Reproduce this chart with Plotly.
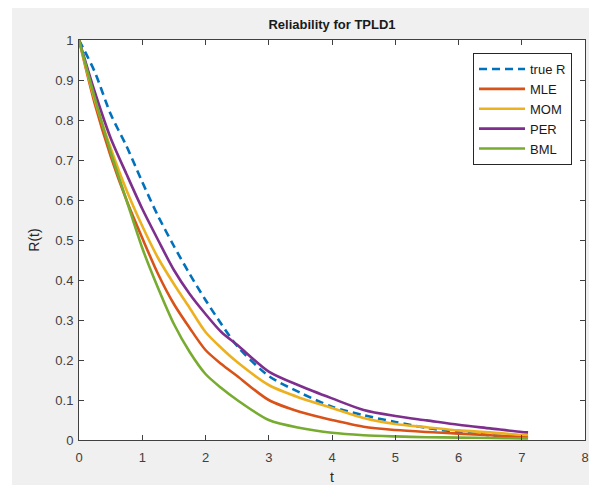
import plotly.graph_objects as go

t = [0, 0.25, 0.5, 0.75, 1.0, 1.25, 1.5, 1.75, 2.0, 2.25, 2.5, 3.0, 3.5, 4.0, 4.5, 5.0, 5.5, 6.0, 6.5, 7.0, 7.1]

true_R = [1, 0.92, 0.815, 0.735, 0.645, 0.56, 0.485, 0.415, 0.35, 0.29, 0.235, 0.16, 0.118, 0.083, 0.062, 0.045, 0.03, 0.02, 0.012, 0.006, 0.005]
mle = [1, 0.84, 0.71, 0.60, 0.505, 0.415, 0.34, 0.28, 0.225, 0.19, 0.16, 0.10, 0.07, 0.05, 0.033, 0.025, 0.02, 0.016, 0.012, 0.008, 0.008]
mom = [1, 0.85, 0.73, 0.625, 0.535, 0.455, 0.39, 0.33, 0.27, 0.23, 0.195, 0.1375, 0.105, 0.08, 0.055, 0.04, 0.032, 0.024, 0.019, 0.013, 0.0125]
per = [1, 0.87, 0.755, 0.665, 0.578, 0.50, 0.425, 0.365, 0.315, 0.27, 0.238, 0.171, 0.135, 0.104, 0.075, 0.06, 0.049, 0.038, 0.029, 0.02, 0.019]
bml = [1, 0.855, 0.72, 0.60, 0.48, 0.38, 0.29, 0.22, 0.165, 0.13, 0.10, 0.05, 0.03, 0.018, 0.012, 0.009, 0.007, 0.006, 0.005, 0.004, 0.004]

names = ["true R", "MLE", "MOM", "PER", "BML"]
series = [true_R, mle, mom, per, bml]
colors = ["#0072BD", "#D95319", "#EDB120", "#7E2F8E", "#77AC30"]
dashes = ["8px,5px", "solid", "solid", "solid", "solid"]

fig = go.Figure()
for n, s, c, d in zip(names, series, colors, dashes):
    fig.add_trace(go.Scatter(x=t, y=s, mode="lines", name=n,
                             line=dict(color=c, width=2.6, dash=d, shape="spline", smoothing=0.8)))

axis_common = dict(showgrid=False, zeroline=False, showline=True, linecolor="#404040", linewidth=1,
                   mirror="ticks", ticks="inside", ticklen=5, tickcolor="#404040", automargin=False,
                   tickfont=dict(family="Liberation Sans, Arial", size=13, color="#404040"))

W, H = 589, 477  # page body has an 8px margin
L, R, T, B = 71, 12, 32, 45
PW = W - L - R
PH = H - T - B

fig.update_layout(
    width=W, height=H,
    margin=dict(l=L, r=R, t=T, b=B, autoexpand=False),
    paper_bgcolor="#f0f0f0", plot_bgcolor="white",
    title=dict(text="<b>Reliability for TPLD1</b>", x=324 / W, xanchor="center", y=1 - 16 / H, yanchor="middle",
               font=dict(family="Liberation Sans, Arial", size=13, color="#1a1a1a"), automargin=False),
    xaxis=dict(range=[0, 8], dtick=1, tick0=0, ticklabelstandoff=5,
               title=dict(text="t", font=dict(family="Liberation Sans, Arial", size=14, color="#262626"), standoff=12),
               **axis_common),
    yaxis=dict(range=[0, 1], dtick=0.1, tick0=0, ticklabelstandoff=2,
               title=dict(text="R(t)", font=dict(family="Liberation Sans, Arial", size=14, color="#262626"), standoff=12),
               **axis_common),
    legend=dict(x=(473 - 79) / PW, y=(440 - 53) / PH, xanchor="left", yanchor="top",
                bgcolor="white", bordercolor="#262626", borderwidth=1,
                font=dict(family="Liberation Sans, Arial", size=13, color="#1a1a1a"),
                itemwidth=46),
    showlegend=True,
)

# white screenshot margin on the left
fig.add_shape(type="rect", xref="paper", yref="paper", x0=-L / PW - 0.01, x1=(4 - L) / PW,
              y0=-B / PH - 0.01, y1=(PH + T) / PH + 0.01, fillcolor="white", line_width=0, layer="below")

fig.write_html("out.html")
